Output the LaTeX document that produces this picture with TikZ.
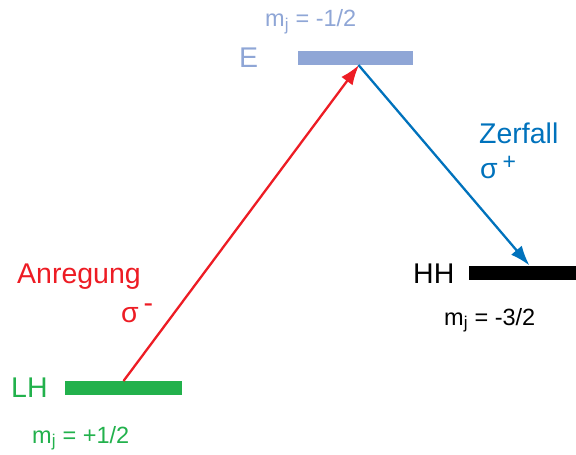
\documentclass[tikz,border=0pt]{standalone}
\usepackage{fontspec}
\setmainfont{Liberation Sans}
\usetikzlibrary{arrows.meta}
\definecolor{cred}{RGB}{237,28,36}
\definecolor{cblue}{RGB}{0,114,188}
\definecolor{cgreen}{RGB}{34,177,76}
\definecolor{clight}{RGB}{143,166,214}
\tikzset{
  bar/.style={draw=none,fill=#1,minimum height=14pt,inner sep=0pt,outer sep=0pt},
  big/.style={inner sep=0pt,anchor=base west,font=\fontsize{28.5}{30}\selectfont},
  small/.style={inner sep=0pt,anchor=base west,font=\fontsize{23.5}{26}\selectfont},
  arr/.style={line width=2.3pt,-{Latex[length=20pt,width=14pt]}},
}
\newcommand{\mj}[1]{m\textsubscript{\fontsize{17}{18}\selectfont j} = #1}
\begin{document}
\begin{tikzpicture}[x=1pt,y=-1pt]
\useasboundingbox (0,0) rectangle (576,455);
% bars
\node[bar=clight,minimum width=115pt] (e) at (355.5,58) {};
\node[bar=black,minimum width=107pt] (hh) at (522.5,272.5) {};
\node[bar=cgreen,minimum width=117pt] (lh) at (123.5,388) {};
% level labels
\node[big,text=clight] (et) at (239,67) {E};
\node[big,text=black] (hht) at (413,283) {HH};
\node[big,text=cgreen] (lht) at (11,397) {LH};
\node[small,text=clight] (em) at (265,27) {\mj{-1/2}};
\node[small,text=black] (hhm) at (444,325) {\mj{-3/2}};
\node[small,text=cgreen] (lhm) at (32,443) {\mj{+1/2}};
% transition labels
\node[big,text=cred] (an) at (17,283) {Anregung};
\node[big,text=cred] (sm) at (121,322) {σ\,\raisebox{0.35em}{-}};
\node[big,text=cblue] (ze) at (479,143) {Zerfall};
\node[big,text=cblue] (sp) at (480,178) {σ\,\raisebox{0.3em}{\fontsize{23}{24}\selectfont +}};
% arrows
\draw[arr,cred] (lh.north) -- ([xshift=3.5pt]e.south);
\draw[arr,cblue] ([xshift=3pt]e.south) -- ([xshift=7pt]hh.north);
\end{tikzpicture}
\end{document}
